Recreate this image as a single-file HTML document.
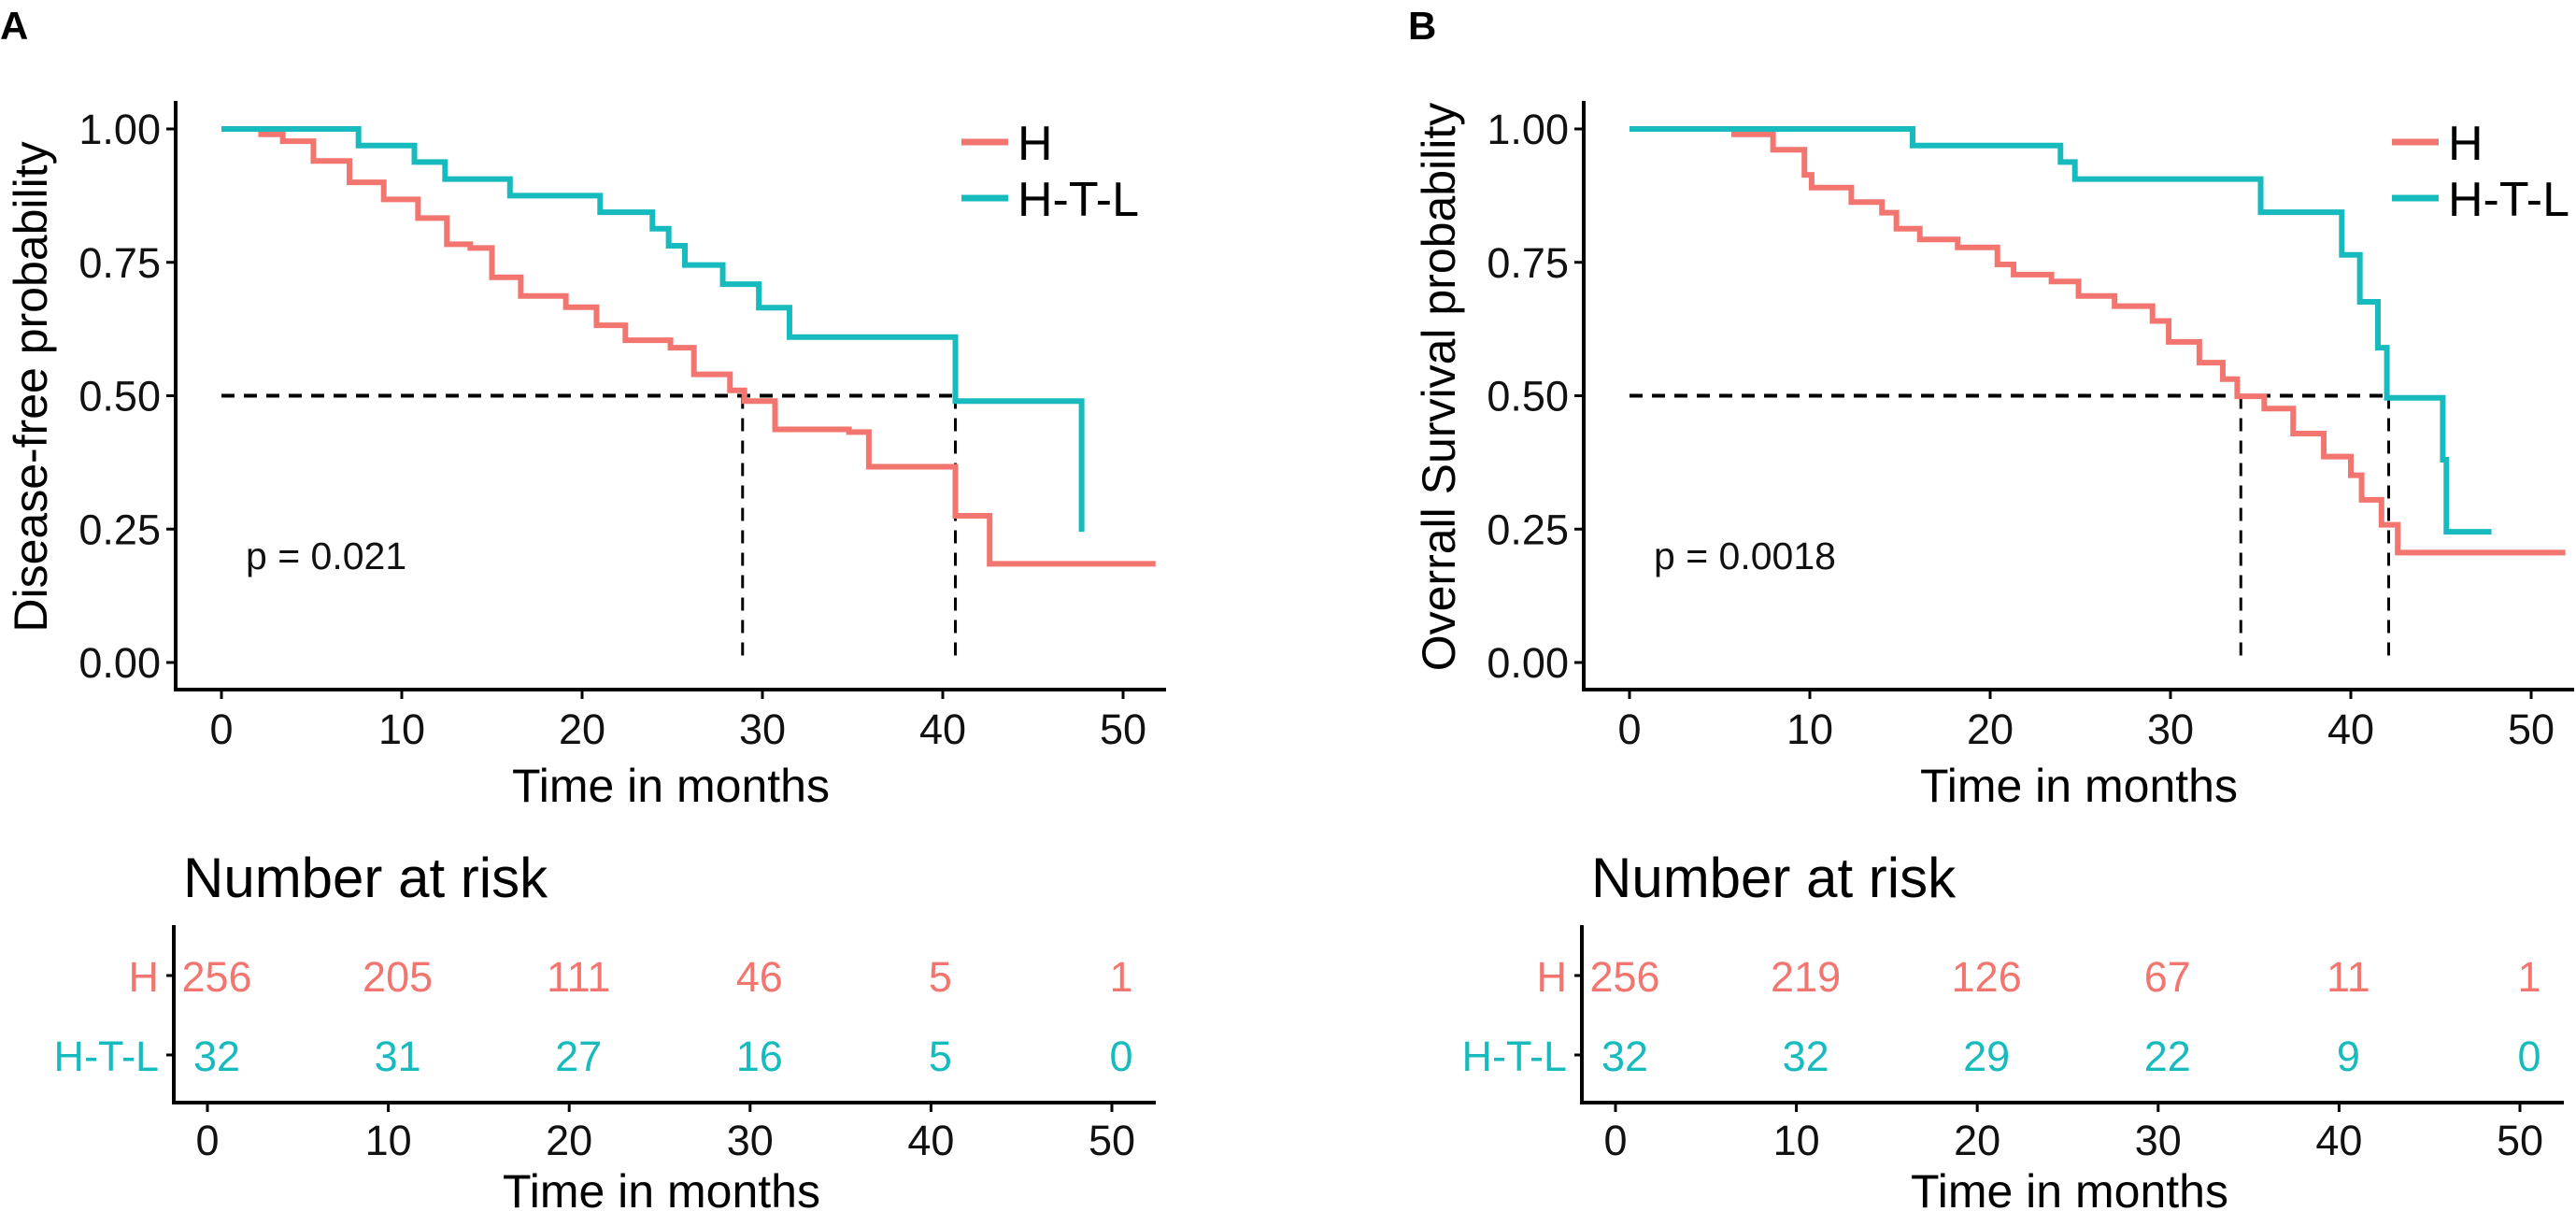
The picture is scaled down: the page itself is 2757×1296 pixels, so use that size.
<!DOCTYPE html>
<html><head><meta charset="utf-8">
<style>
html,body{margin:0;padding:0;background:#fff;}
svg{display:block;}
text{font-family:"Liberation Sans",Arial,sans-serif;}
</style></head>
<body>
<svg id="chart" width="2757" height="1296" viewBox="0 0 2757 1296" xmlns="http://www.w3.org/2000/svg"></svg>
<script>
// ---- Panel A data (disease-free) ----
const aHTLTimes = [0, 7.6, 10.7, 12.4, 16.0, 21.0, 23.9, 24.8, 25.7, 27.8, 29.8, 31.5, 40.7, 47.7];
const aHTLSurv  = [1.0, 0.969, 0.938, 0.906, 0.875, 0.844, 0.813, 0.781, 0.745, 0.709, 0.665, 0.61, 0.49, 0.245];
const aHTLEnd = 47.7;
const aHTimes = [0, 2.2, 3.4, 5.1, 7.1, 9.0, 10.9, 12.5, 13.8, 15.0, 16.6, 19.1, 20.8, 22.4, 24.9, 26.2, 28.2, 29.0, 30.7, 34.8, 35.9, 40.7, 42.6];
const aHSurv  = [1.0, 0.99, 0.977, 0.94, 0.90, 0.868, 0.833, 0.784, 0.777, 0.722, 0.687, 0.666, 0.632, 0.604, 0.59, 0.54, 0.51, 0.49, 0.437, 0.432, 0.367, 0.275, 0.185];
const aHEnd = 51.8;
const aMedians = [28.9, 40.7];
const aRiskH = [256, 205, 111, 46, 5, 1];
const aRiskHTL = [32, 31, 27, 16, 5, 0];

// ---- Panel B data (overall survival) ----
const bHTLTimes = [0, 15.7, 23.9, 24.7, 35.0, 39.5, 40.5, 41.5, 42.0, 45.1, 45.3];
const bHTLSurv  = [1.0, 0.969, 0.938, 0.906, 0.844, 0.764, 0.676, 0.59, 0.496, 0.38, 0.245];
const bHTLEnd = 47.8;
const bHTimes = [0, 5.8, 7.96, 9.7, 10.1, 12.3, 14.0, 14.8, 16.1, 18.2, 20.4, 21.3, 23.4, 24.9, 26.9, 29.0, 29.9, 31.6, 32.9, 33.7, 35.2, 36.8, 38.5, 40.0, 40.6, 41.7, 42.6];
const bHSurv  = [1.0, 0.99, 0.961, 0.914, 0.89, 0.863, 0.843, 0.813, 0.793, 0.778, 0.746, 0.727, 0.714, 0.687, 0.668, 0.64, 0.601, 0.562, 0.531, 0.499, 0.476, 0.429, 0.386, 0.351, 0.305, 0.258, 0.206];
const bHEnd = 51.9;
const bMedians = [33.9, 42.1];
const bRiskH = [256, 219, 126, 67, 11, 1];
const bRiskHTL = [32, 32, 29, 22, 9, 0];

const xTicks = [0, 10, 20, 30, 40, 50];
const yTicks = [0, 0.25, 0.5, 0.75, 1.0];
const yTickLabels = ["0.00", "0.25", "0.50", "0.75", "1.00"];
const groups = ["H", "H-T-L"];

const RED = "#F2766F", TEAL = "#17BBBD";
const svg = document.getElementById('chart');
const NS = "http://www.w3.org/2000/svg";
function mk(tag, attrs, parent) {
  const e = document.createElementNS(NS, tag);
  for (const k in attrs) e.setAttribute(k, attrs[k]);
  (parent || svg).appendChild(e);
  return e;
}
function stepPath(times, surv, end, sx, sy) {
  let d = "M" + sx(times[0]) + "," + sy(surv[0]);
  for (let i = 1; i < times.length; i++) {
    d += " H" + sx(times[i]) + " V" + sy(surv[i]);
  }
  d += " H" + sx(end);
  return d;
}

function panel(cfg) {
  const ox = cfg.ox;
  const sx = t => ox + 237 + t * 19.3;
  const sy = s => 709 - s * 571;
  const g = mk('g', {});
  
  

  const lbl = mk('text', {x: ox + 0, y: 42, 'font-size': 42, 'font-weight': 'bold'}, g);
  lbl.textContent = cfg.letter;
  
  

  const ya = mk('line', {x1: ox + 188, y1: 108, x2: ox + 188, y2: 739, stroke: '#000', 'stroke-width': 4}, g);
  
  
  const xa = mk('line', {x1: ox + 186, y1: 738, x2: ox + 1248, y2: 738, stroke: '#000', 'stroke-width': 4}, g);
  
  

  yTicks.forEach((v, i) => {
    const t = mk('line', {x1: ox + 178, x2: ox + 188, y1: sy(v), y2: sy(v), stroke: '#000', 'stroke-width': 3}, g);
    
    
    const tl = mk('text', {x: ox + 172, y: sy(v) + 16, 'font-size': 45, 'text-anchor': 'end', fill: '#111'}, g);
    tl.textContent = yTickLabels[i];
    
    
  });
  xTicks.forEach(v => {
    const t = mk('line', {x1: sx(v), x2: sx(v), y1: 738, y2: 748, stroke: '#000', 'stroke-width': 3}, g);
    
    
    const tl = mk('text', {x: sx(v), y: 796, 'font-size': 45, 'text-anchor': 'middle', fill: '#111'}, g);
    tl.textContent = v;
    
    
  });
  const xt = mk('text', {x: ox + 718, y: 858, 'font-size': 50, 'text-anchor': 'middle'}, g);
  xt.textContent = "Time in months";
  
  
  const ytt = mk('text', {x: 0, y: 0, 'font-size': 50, 'text-anchor': 'middle', transform: `translate(${ox + 50},414) rotate(-90)`}, g);
  ytt.textContent = cfg.ytitle;
  
  

  const dash = {stroke: '#000', 'stroke-width': 4, 'stroke-dasharray': '14,10', fill: 'none'};
  const hl = mk('line', Object.assign({x1: sx(0), x2: sx(cfg.med[1]), y1: sy(0.5), y2: sy(0.5)}, dash), g);
  
  
  cfg.med.forEach(m => {
    const vl = mk('line', Object.assign({x1: sx(m), x2: sx(m), y1: sy(0.5), y2: sy(0)}, dash, {'stroke-width': 3}), g);
    
    
  });

  const c1 = mk('path', {d: stepPath(cfg.hT, cfg.hS, cfg.hE, sx, sy), stroke: RED, 'stroke-width': 6, fill: 'none'}, g);
  
  
  const c2 = mk('path', {d: stepPath(cfg.tT, cfg.tS, cfg.tE, sx, sy), stroke: TEAL, 'stroke-width': 6, fill: 'none'}, g);
  
  

  const p = mk('text', {x: ox + 263, y: 609, 'font-size': 41, fill: '#111'}, g);
  p.textContent = cfg.p;
  
  

  [[RED, groups[0], 152], [TEAL, groups[1], 212]].forEach(([col, name, y]) => {
    const lg = mk('g', {}, g);
    
    
    mk('line', {x1: cfg.legX, x2: cfg.legX + 50, y1: y, y2: y, stroke: col, 'stroke-width': 7}, lg);
    const lt = mk('text', {x: cfg.legX + 60, y: y + 19, 'font-size': 52}, lg);
    lt.textContent = name;
  });

  const rt = mk('text', {x: ox + 196, y: 960, 'font-size': 60}, g);
  rt.textContent = "Number at risk";
  
  
  const rx = t => ox + 222 + t * 19.36;
  const ra = mk('line', {x1: ox + 186, y1: 990, x2: ox + 186, y2: 1181, stroke: '#000', 'stroke-width': 4}, g);
  
  
  const rb = mk('line', {x1: ox + 184, y1: 1180, x2: ox + 1237, y2: 1180, stroke: '#000', 'stroke-width': 4}, g);
  
  
  [[cfg.rH, RED, groups[0], 1044], [cfg.rT, TEAL, groups[1], 1129]].forEach(([vals, col, name, y]) => {
    const tk = mk('line', {x1: ox + 178, x2: ox + 186, y1: y, y2: y, stroke: '#000', 'stroke-width': 3}, g);
    
    
    const nl = mk('text', {x: ox + 170, y: y + 17, 'font-size': 45, 'text-anchor': 'end', fill: col}, g);
    nl.textContent = name;
    
    
    vals.forEach((v, i) => {
      const vt = mk('text', {x: rx(xTicks[i]) + 10, y: y + 17, 'font-size': 45, 'text-anchor': 'middle', fill: col}, g);
      vt.textContent = v;
      
      
    });
  });
  xTicks.forEach(v => {
    const t = mk('line', {x1: rx(v), x2: rx(v), y1: 1180, y2: 1190, stroke: '#000', 'stroke-width': 3}, g);
    
    
    const tl = mk('text', {x: rx(v), y: 1236, 'font-size': 45, 'text-anchor': 'middle', fill: '#111'}, g);
    tl.textContent = v;
    
    
  });
  const rxt = mk('text', {x: ox + 708, y: 1292, 'font-size': 50, 'text-anchor': 'middle'}, g);
  rxt.textContent = "Time in months";
  
  
}

panel({ox: 0, name: 'a', letter: 'A', ytitle: 'Disease-free probability', med: aMedians,
  hT: aHTimes, hS: aHSurv, hE: aHEnd, tT: aHTLTimes, tS: aHTLSurv, tE: aHTLEnd,
  p: 'p = 0.021', legX: 1029, rH: aRiskH, rT: aRiskHTL});
panel({ox: 1507, name: 'b', letter: 'B', ytitle: 'Overrall Survival probability', med: bMedians,
  hT: bHTimes, hS: bHSurv, hE: bHEnd, tT: bHTLTimes, tS: bHTLSurv, tE: bHTLEnd,
  p: 'p = 0.0018', legX: 2560, rH: bRiskH, rT: bRiskHTL});
</script>
</body></html>
